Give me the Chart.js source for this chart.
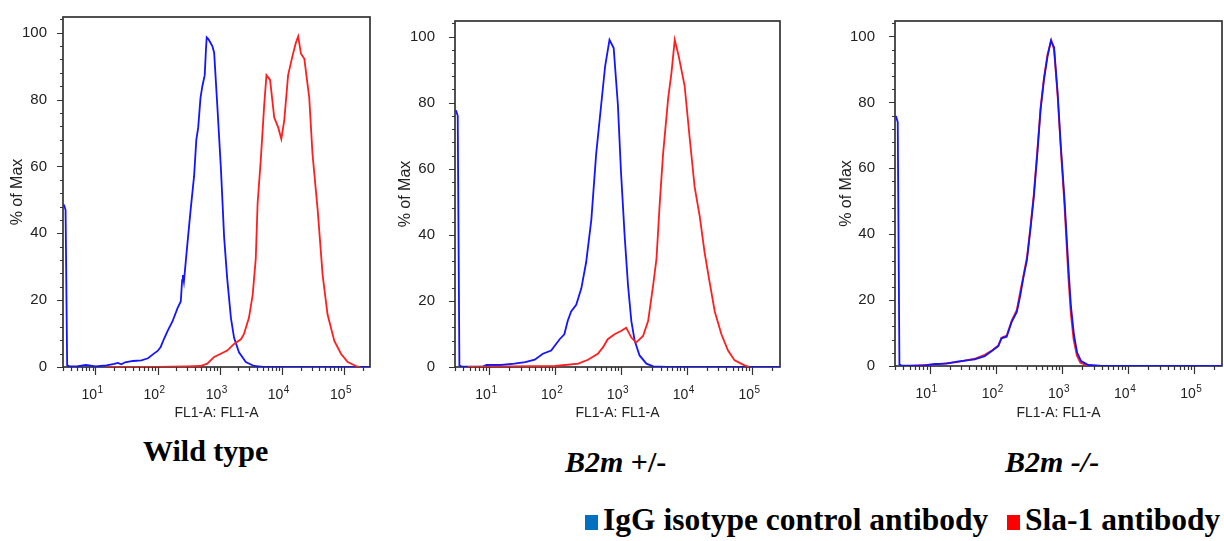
<!DOCTYPE html>
<html>
<head>
<meta charset="utf-8">
<script src="https://cdn.jsdelivr.net/npm/chart.js@4.4.0/dist/chart.umd.min.js"></script>
<style>
  body { margin: 0; background: #fff; }
  #page { position: relative; width: 1224px; height: 541px; overflow: hidden; }
  canvas { position: absolute; top: 0; }
  .sub { position: absolute; font: bold 30px "Liberation Serif", "Times New Roman", serif; line-height: 30px; color: #000; white-space: nowrap; }
  .sub i { font-style: italic; }
  .key { position: absolute; font: bold 31.5px "Liberation Serif", "Times New Roman", serif; line-height: 32px; color: #000; white-space: nowrap; }
  .sq { position: absolute; width: 13px; height: 15px; }
</style>
</head>
<body>
<div id="page">
  <canvas id="wt" width="380" height="425" style="left:0px"></canvas>
  <canvas id="het" width="402" height="425" style="left:388px"></canvas>
  <canvas id="ko" width="395" height="425" style="left:829px"></canvas>

  <div class="sub" style="left:143px; top:436px">Wild type</div>
  <div class="sub" style="left:565px; top:447px"><i>B2m</i> +/-</div>
  <div class="sub" style="left:1005px; top:447px"><i>B2m -/-</i></div>

  <div class="sq" style="left:585px; top:515px; background:#0070c0"></div>
  <div class="key" style="left:603px; top:504px">IgG isotype control antibody</div>
  <div class="sq" style="left:1007px; top:515px; background:#ff0000"></div>
  <div class="key" style="left:1025px; top:504px">Sla-1 antibody</div>
</div>

<script>
// axis ticks
const xMajorTicks = [10, 100, 1000, 10000, 100000];
const xExponents = ['1', '2', '3', '4', '5'];
const yMajorTicks = [0, 20, 40, 60, 80, 100];

// Wild type
const wtIgGX = [3.1, 3.3, 3.5, 3.8, 5, 7, 10, 15, 20, 23, 26, 30, 40, 55, 70, 87, 100, 112, 126, 145, 174, 210, 236, 248, 255, 265, 302, 340, 386, 420, 450, 490, 525, 573, 600, 617, 660, 708, 760, 813, 912, 1047, 1175, 1318, 1513, 1698, 2040, 2630, 3550, 5000, 262144];
const wtIgGY = [48.6, 47, 0.5, 0.2, 0.2, 0.6, 0.2, 0.5, 0.9, 1.2, 0.8, 1.4, 1.8, 2.0, 2.6, 4.0, 4.8, 6.0, 8.3, 10.8, 13.7, 17.7, 19.6, 26, 27.5, 25.5, 37, 47, 57, 68, 71.6, 80.5, 84, 87.3, 95, 98.6, 98, 97, 96, 94, 78.5, 59, 39, 26.5, 14.7, 8.8, 4.4, 1.5, 0.3, 0, 0];
const wtSlaX = [15, 100, 300, 490, 630, 813, 1000, 1318, 1700, 2190, 2450, 2950, 3390, 3800, 4070, 4570, 5200, 5650, 6460, 7540, 8750, 9800, 10900, 12600, 14800, 16800, 18300, 20300, 23000, 27600, 31100, 37700, 45300, 54400, 69900, 89900, 115000, 156000, 180000];
const wtSlaY = [0, 0, 0.2, 0.3, 1, 3, 3.8, 4.9, 6.9, 8.3, 9.8, 14.7, 21.6, 32.4, 49, 61.8, 78.5, 87.3, 85.9, 74.6, 71.6, 68.2, 73.6, 87.3, 93, 97, 98.9, 93.7, 92.2, 80.5, 63.8, 47, 27.5, 15.7, 7.8, 3.9, 1.5, 0.3, 0];

// B2m +/-
const hetIgGX = [3.1, 3.3, 3.5, 3.8, 8, 9, 15, 24, 35, 49, 65, 87, 117, 138, 155, 175, 209, 250, 296, 355, 420, 500, 575, 670, 776, 900, 1000, 1140, 1280, 1440, 1620, 1920, 2440, 3100, 5000, 262144];
const hetIgGY = [77.7, 76, 0.5, 0.1, 0.1, 0.6, 0.6, 1, 1.5, 2.2, 4, 5, 8.4, 9.9, 13.9, 16.8, 18.8, 23.8, 31.7, 44.6, 64.4, 79.2, 91, 99, 96.5, 79.2, 59.4, 39.6, 24.8, 13.9, 7.9, 3.5, 1, 0.2, 0, 0];
const hetSlaX = [4.7, 100, 225, 315, 445, 535, 630, 800, 1000, 1200, 1440, 1700, 2170, 2590, 3090, 3470, 3890, 4370, 5220, 5870, 6580, 7570, 9300, 11100, 13200, 15800, 18700, 22300, 26700, 33700, 42500, 53600, 75600, 90000];
const hetSlaY = [0, 0.3, 1, 2.2, 4, 6, 8.4, 9.9, 10.9, 11.9, 8.9, 7.4, 9.4, 13.9, 24.8, 32.7, 49.5, 64.4, 81.2, 89.1, 99, 94, 85.1, 69.3, 54.5, 45.5, 34.7, 25.7, 16.8, 9.9, 5, 2, 0.5, 0];

// B2m -/-
const koIgGX = [3.1, 3.3, 3.5, 3.8, 8.6, 12, 18, 26, 48, 68, 86, 109, 122, 146, 174, 208, 234, 264, 296, 333, 375, 423, 476, 535, 604, 680, 760, 860, 960, 1090, 1260, 1370, 1520, 1700, 1950, 2500, 4000, 262144];
const koIgGY = [75.9, 74, 0.5, 0.1, 0.2, 0.6, 0.7, 1.3, 2, 3, 4.5, 6, 8.4, 8.9, 13.4, 16.4, 21.3, 27.3, 32.2, 41.2, 51.1, 64, 77.9, 86.8, 93.8, 98.7, 96.7, 83, 67, 51, 29, 18, 9.4, 4, 1.5, 0.3, 0, 0];
const koSlaX = [5, 12, 26, 48, 68, 86, 109, 122, 146, 174, 208, 234, 264, 296, 333, 375, 423, 476, 535, 604, 690, 760, 860, 960, 1090, 1250, 1360, 1500, 1680, 1900, 2400, 4000];
const koSlaY = [0, 0.5, 1.2, 2.2, 3.4, 4.6, 6.2, 8.6, 9.2, 13.8, 17, 22.5, 27.8, 33, 42, 52, 65, 78.5, 87.5, 94.5, 98.9, 96, 82, 66, 49, 27, 16, 8, 3.2, 1, 0.2, 0];

const BLUE = '#1414ff';
const RED = '#ff1e1e';
const sans = '"Liberation Sans", Arial, sans-serif';

function pts(xs, ys) {
  return xs.map((x, i) => ({x: x, y: ys[i]}));
}

// frame, minor/major tick marks and 10^n labels, FlowJo style
const fcsAxes = {
  id: 'fcsAxes',
  beforeDatasetsDraw(chart) {
    const {ctx, chartArea: a} = chart;
    const x = chart.scales.x, y = chart.scales.y;
    ctx.save();
    ctx.strokeStyle = '#333';
    ctx.lineWidth = 1.2;
    ctx.beginPath();
    for (let v = 0; v <= 104; v += 4) {
      const py = Math.round(y.getPixelForValue(v)) + 0.5;
      const len = v % 20 === 0 ? 6 : 3;
      ctx.moveTo(a.left - len, py);
      ctx.lineTo(a.left, py);
    }
    [1, 10, 100, 1000, 10000, 100000].forEach(d => {
      for (let m = 1; m < 10; m++) {
        const v = m * d;
        if (v < x.min || v > x.max) continue;
        const px = Math.round(x.getPixelForValue(v)) + 0.5;
        const len = m === 1 ? 8 : 4;
        ctx.moveTo(px, a.bottom);
        ctx.lineTo(px, a.bottom + len);
      }
    });
    ctx.stroke();
    ctx.lineWidth = 1.7;
    ctx.strokeRect(a.left, a.top, a.right - a.left, a.bottom - a.top);

    ctx.fillStyle = '#222';
    ctx.textBaseline = 'alphabetic';
    xMajorTicks.forEach((v, i) => {
      const px = x.getPixelForValue(v);
      ctx.font = '14px ' + sans;
      ctx.textAlign = 'right';
      ctx.fillText('10', px + 1.5, a.bottom + 32);
      ctx.font = '10px ' + sans;
      ctx.textAlign = 'left';
      ctx.fillText(xExponents[i], px + 2, a.bottom + 26);
    });
    ctx.restore();
  }
};

function histogram(id, sets, cfg) {
  return new Chart(document.getElementById(id), {
    type: 'line',
    data: {
      datasets: sets.map(s => ({
        data: pts(s.x, s.y),
        borderColor: s.color,
        borderWidth: 1.8,
        pointRadius: 0,
        tension: 0,
        fill: false
      }))
    },
    options: {
      responsive: false,
      animation: false,
      devicePixelRatio: 1,
      layout: { padding: { top: cfg.top, right: cfg.right, left: 0, bottom: 0 } },
      plugins: { legend: { display: false }, tooltip: { enabled: false } },
      scales: {
        x: {
          type: 'logarithmic',
          min: 3,
          max: 262144,
          grid: { display: false },
          border: { display: false },
          ticks: { display: false },
          afterFit: s => { s.height = cfg.xh; },
          title: {
            display: true,
            text: 'FL1-A: FL1-A',
            color: '#222',
            font: { family: sans, size: 14 },
            padding: { top: 0, bottom: 3 }
          }
        },
        y: {
          type: 'linear',
          min: 0,
          max: 104.7,
          grid: { display: false },
          border: { display: false },
          afterBuildTicks: s => { s.ticks = yMajorTicks.map(v => ({value: v})); },
          afterFit: s => { s.width = cfg.yw; },
          ticks: {
            color: '#222',
            padding: cfg.pad,
            font: { family: sans, size: 15 }
          },
          title: {
            display: true,
            text: '% of Max',
            color: '#222',
            font: { family: sans, size: 16 },
            padding: { top: 8.4, bottom: 0 }
          }
        }
      }
    },
    plugins: [fcsAxes]
  });
}

// first dataset is painted on top
histogram('wt', [
  {x: wtSlaX, y: wtSlaY, color: RED},
  {x: wtIgGX, y: wtIgGY, color: BLUE}
], {top: 11, right: 10, yw: 63, xh: 58, pad: 8});

histogram('het', [
  {x: hetSlaX, y: hetSlaY, color: RED},
  {x: hetIgGX, y: hetIgGY, color: BLUE}
], {top: 13, right: 10, yw: 67, xh: 58, pad: 12});

histogram('ko', [
  {x: koIgGX, y: koIgGY, color: BLUE},
  {x: koSlaX, y: koSlaY, color: RED}
], {top: 13, right: 2, yw: 66, xh: 59, pad: 12});
</script>
</body>
</html>
